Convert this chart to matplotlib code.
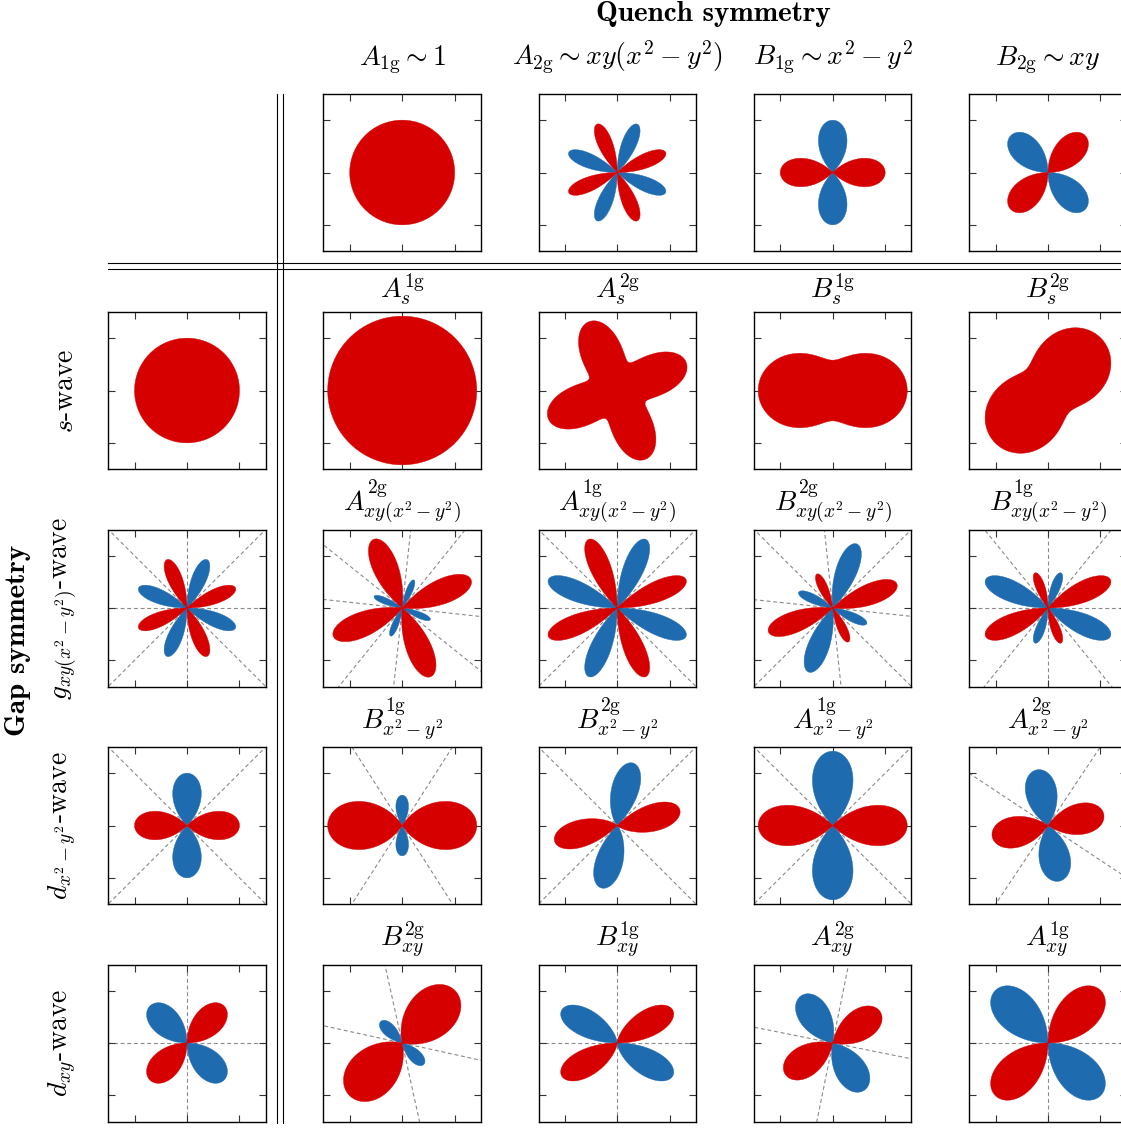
import numpy as np
import matplotlib.pyplot as plt
from matplotlib.lines import Line2D

plt.rcParams['mathtext.fontset'] = 'cm'
plt.rcParams['font.family'] = 'serif'
plt.rcParams['font.serif'] = ['cmr10']

W, H = 1121, 1128
RED = '#d60000'
BLUE = '#1f6bb0'

# angular basis used for every shape: 1, cos 2t, sin 2t, sin 4t
basis = [
    lambda t: np.ones_like(t),
    lambda t: np.cos(2 * t),
    lambda t: np.sin(2 * t),
    lambda t: np.sin(4 * t),
]

quench_labels = [r'$A_{\mathrm{1g}} \sim 1$', r'$A_{\mathrm{2g}} \sim xy(x^2-y^2)$',
                 r'$B_{\mathrm{1g}} \sim x^2-y^2$', r'$B_{\mathrm{2g}} \sim xy$']
quench_coeffs = [[1, 0, 0, 0], [0, 0, 0, 1], [0, 1, 0, 0], [0, 0, 1, 0]]

gap_labels = [r'$s$-wave', r'$g_{xy(x^2-y^2)}$-wave', r'$d_{x^2-y^2}$-wave', r'$d_{xy}$-wave']
gap_coeffs = [[1, 0, 0, 0], [0, 0, 0, 1], [0, 1, 0, 0], [0, 0, 1, 0]]

# strength of the quench relative to the gap
quench_weight = 0.42

product_titles = [
    [r'$A_s^{\mathrm{1g}}$', r'$A_s^{\mathrm{2g}}$', r'$B_s^{\mathrm{1g}}$', r'$B_s^{\mathrm{2g}}$'],
    [r'$A^{\mathrm{2g}}_{xy(x^2-y^2)}$', r'$A^{\mathrm{1g}}_{xy(x^2-y^2)}$',
     r'$B^{\mathrm{2g}}_{xy(x^2-y^2)}$', r'$B^{\mathrm{1g}}_{xy(x^2-y^2)}$'],
    [r'$B^{\mathrm{1g}}_{x^2-y^2}$', r'$B^{\mathrm{2g}}_{x^2-y^2}$',
     r'$A^{\mathrm{1g}}_{x^2-y^2}$', r'$A^{\mathrm{2g}}_{x^2-y^2}$'],
    [r'$B^{\mathrm{2g}}_{xy}$', r'$B^{\mathrm{1g}}_{xy}$', r'$A^{\mathrm{2g}}_{xy}$', r'$A^{\mathrm{1g}}_{xy}$'],
]

# panel placement in pixels
col_left = [108.3, 323.5, 538.5, 754.0, 969.3]
row_top = [94.0, 312.0, 529.5, 747.0, 964.5]
pw, ph = 157.4, 157.0
title_gap = [5, 3, 4, 5]  # space between each row's titles and its panels

FS = 20


def harmonic(coeffs, t):
    return sum(c * b(t) for c, b in zip(coeffs, basis))


# angles in [0, pi) where the function changes sign
def nodal_angles(coeffs, n=3600):
    step = np.pi / n
    t = (np.arange(n) + 0.5) * step
    f = harmonic(coeffs, t)
    g = np.roll(f, -1)  # all harmonics are even, so period is pi
    angles = []
    for i in np.where(f * g < 0)[0]:
        angles.append(t[i] + f[i] / (f[i] - g[i]) * step)
    return angles


def make_panel(col, row):
    x, y = col_left[col], row_top[row]
    ax = fig.add_axes([x / W, 1 - (y + ph) / H, pw / W, ph / H])
    ax.set_xlim(-1.5, 1.5)
    ax.set_ylim(-1.5, 1.5)
    ax.set_xticks([-1, 0, 1])
    ax.set_yticks([-1, 0, 1])
    ax.tick_params(direction='in', length=5, width=0.8, color='#333',
                   top=True, right=True, labelbottom=False, labelleft=False)
    for s in ax.spines.values():
        s.set_linewidth(1.0)
    return ax


def draw_lobes(ax, coeffs, nodal=True):
    t = np.linspace(0, 2 * np.pi, 2881)
    f = harmonic(coeffs, t)
    if nodal:
        for phi in nodal_angles(coeffs):
            c, s = np.cos(phi), np.sin(phi)
            ax.plot([-3 * c, 3 * c], [-3 * s, 3 * s], color='#8a8a8a', lw=0.8,
                    ls=(0, (3.5, 2.5)), zorder=1)
    for sign, color in ((-1, BLUE), (1, RED)):
        r = np.clip(sign * f, 0, None)
        if r.max() > 1e-9:
            ax.fill(r * np.cos(t), r * np.sin(t), color=color, lw=0.3, zorder=2)


fig = plt.figure(figsize=(W / 100, H / 100), dpi=100)

# quench row
for j, q in enumerate(quench_coeffs):
    ax = make_panel(j + 1, 0)
    draw_lobes(ax, q, nodal=False)
    fig.text((col_left[j + 1] + pw / 2) / W, 1 - 65 / H, quench_labels[j],
             ha='center', va='baseline', fontsize=FS)

# gap column and the combined responses
for i, g in enumerate(gap_coeffs):
    ax = make_panel(0, i + 1)
    draw_lobes(ax, g)
    fig.text(79 / W, 1 - (row_top[i + 1] + ph / 2) / H, gap_labels[i],
             rotation=90, ha='right', va='center', fontsize=FS)
    for j, q in enumerate(quench_coeffs):
        combined = [a + quench_weight * b for a, b in zip(g, q)]
        ax = make_panel(j + 1, i + 1)
        draw_lobes(ax, combined)
        fig.text((col_left[j + 1] + pw / 2) / W, 1 - (row_top[i + 1] - title_gap[i]) / H,
                 product_titles[i][j], ha='center', va='bottom', fontsize=FS)

# double separators
for x in (277.3, 283.3):
    fig.add_artist(Line2D([x / W, x / W], [1 - 94 / H, 1 - 1122.5 / H],
                          transform=fig.transFigure, color='k', lw=0.8))
for y in (263.3, 269.3):
    fig.add_artist(Line2D([108 / W, 1.0], [1 - y / H, 1 - y / H],
                          transform=fig.transFigure, color='k', lw=0.8))

fig.text(713 / W, 1 - 1 / H, 'Quench symmetry', family='cmb10',
         ha='center', va='top', fontsize=21)
fig.text(18 / W, 1 - 640 / H, 'Gap symmetry', family='cmb10', rotation=90,
         ha='center', va='center', fontsize=21)

fig.savefig('out.png', dpi=100)
